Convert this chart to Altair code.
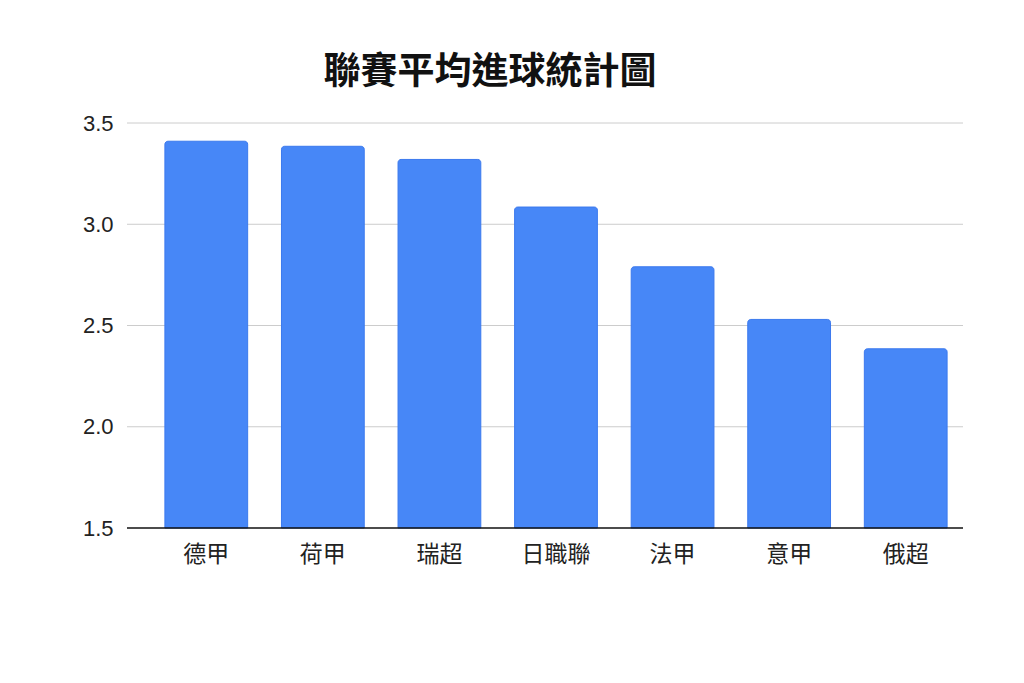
import altair as alt
import pandas as pd

leagues = ["德甲", "荷甲", "瑞超", "日職聯", "法甲", "意甲", "俄超"]
goals = [3.41, 3.385, 3.32, 3.085, 2.79, 2.53, 2.385]
y_ticks = [1.5, 2.0, 2.5, 3.0, 3.5]
grid_values = [2.0, 2.5, 3.0, 3.5]
base_value = 1.5

W, H = 836, 405

df = pd.DataFrame({"league": leagues, "goals": goals})
grid_df = pd.DataFrame({"v": grid_values})
base_df = pd.DataFrame({"v": [base_value]})

cjk = "Noto Sans CJK TC"
num_font = "Liberation Sans"

y_scale = alt.Scale(domain=[1.5, 3.5], zero=False, nice=False)

grid = alt.Chart(grid_df).mark_rule(color="#cccccc", strokeWidth=1).encode(
    y=alt.Y("v:Q", scale=y_scale, title=None),
    x=alt.value(0), x2=alt.value(W),
)

bars = alt.Chart(df).mark_bar(
    color="#4787F7", stroke="#3B79EE", strokeWidth=1,
    cornerRadiusTopLeft=3, cornerRadiusTopRight=3
).encode(
    x=alt.X("league:N", sort=leagues, title=None,
            scale=alt.Scale(range=[21, W + 1], paddingInner=0.29, paddingOuter=0.145),
            axis=alt.Axis(labelAngle=0, labelFont=cjk, labelFontSize=23, labelColor="#222",
                          labelPadding=15, ticks=False, domain=False, grid=False)),
    y=alt.Y("goals:Q", title=None, scale=y_scale,
            axis=alt.Axis(values=y_ticks, format=".1f", labelFont=num_font, labelFontSize=22,
                          labelColor="#222", labelPadding=14, ticks=False, domain=False,
                          grid=False, minExtent=45, maxExtent=45)),
    y2=alt.datum(base_value),
)

base = alt.Chart(base_df).mark_rule(color="#111111", strokeWidth=1.5).encode(
    y=alt.Y("v:Q", scale=y_scale, title=None),
    x=alt.value(0), x2=alt.value(W),
)

chart = alt.layer(grid, bars, base).properties(
    width=W, height=H,
    padding={"left": 74, "top": 46, "right": 10, "bottom": 10},
    title=alt.TitleParams("聯賽平均進球統計圖", font=cjk, fontSize=37, fontWeight="bold",
                          color="#111", anchor="middle", dx=-55, offset=20),
).configure_view(stroke=None)

chart.save("out.html", embed_options={"renderer": "svg", "actions": False})
